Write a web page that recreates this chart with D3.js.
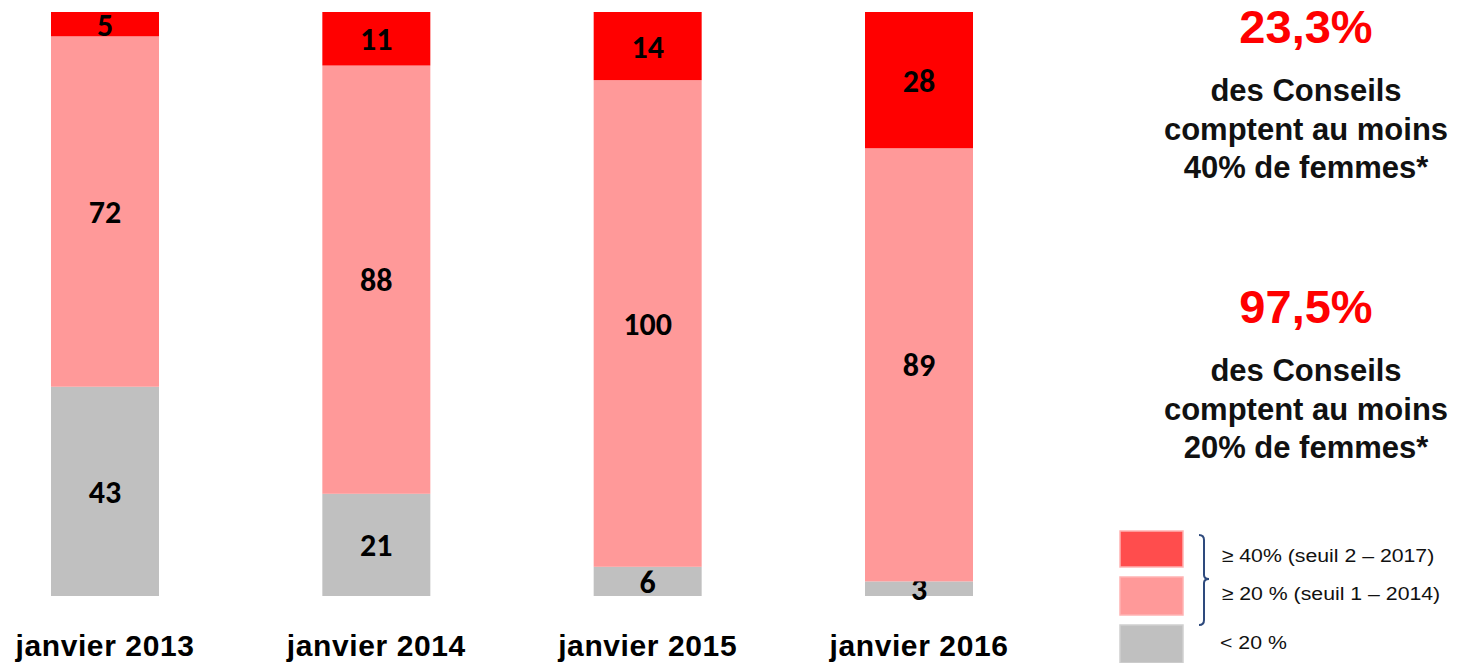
<!DOCTYPE html>
<html>
<head>
<meta charset="utf-8">
<script src="https://cdn.jsdelivr.net/npm/d3@7"></script>
<style>
  body { margin: 0; background: #fff; }
  svg { display: block; }
</style>
</head>
<body>
<div id="chart"></div>
<script>
// data (number of boards per category)
const periods = ["janvier 2013", "janvier 2014", "janvier 2015", "janvier 2016"];
const below20 = [43, 21, 6, 3];
const from20 = [72, 88, 100, 89];
const above40 = [5, 11, 14, 28];

const seriesKeys = ["below20", "from20", "above40"];
const seriesColors = ["#c0c0c0", "#ff9999", "#ff0000"];

const legendLabels = ["≥ 40% (seuil 2 – 2017)", "≥ 20 % (seuil 1 – 2014)", "< 20 %"];
const legendColors = ["#ff4d4d", "#ff9999", "#c0c0c0"];

const bigFigures = ["23,3%", "97,5%"];
const bigTexts = [
  ["des Conseils", "comptent au moins", "40% de femmes*"],
  ["des Conseils", "comptent au moins", "20% de femmes*"]
];

const rows = periods.map((p, i) => ({
  period: p,
  below20: below20[i],
  from20: from20[i],
  above40: above40[i]
}));

const width = 1458, height = 663;

const svg = d3.select("#chart")
  .append("svg")
  .attr("width", width)
  .attr("height", height);

// scales
const x = d3.scaleBand()
  .domain(periods)
  .range([51, 973])
  .paddingInner(0.602)
  .paddingOuter(0);

const y = d3.scaleLinear()
  .domain([0, 120])
  .range([596, 12]);

const color = d3.scaleOrdinal().domain(seriesKeys).range(seriesColors);

const stacked = d3.stack().keys(seriesKeys)(rows);

// bars
const layers = svg.append("g")
  .selectAll("g")
  .data(stacked)
  .join("g")
  .attr("fill", d => color(d.key));

layers.selectAll("rect")
  .data(d => d)
  .join("rect")
  .attr("x", d => x(d.data.period))
  .attr("y", d => y(d[1]))
  .attr("width", x.bandwidth())
  .attr("height", d => y(d[0]) - y(d[1]));

// value labels
layers.selectAll("text")
  .data(d => d.map(v => ({ v: v, key: d.key })))
  .join("text")
  .attr("x", d => x(d.v.data.period) + x.bandwidth() / 2)
  .attr("y", d => (y(d.v[0]) + y(d.v[1])) / 2)
  .attr("dy", "0.36em")
  .attr("text-anchor", "middle")
  .attr("fill", "#000")
  .attr("font-family", "Carlito, Calibri, Lato, sans-serif")
  .attr("font-weight", "700")
  .style("font-size", "32px")
  .text(d => d.v.data[d.key]);

// x axis labels
const xAxis = d3.axisBottom(x).tickSize(0).tickPadding(0);
const xAxisGroup = svg.append("g")
  .attr("transform", "translate(0,634)")
  .call(xAxis);
xAxisGroup.select(".domain").remove();
xAxisGroup.selectAll("text")
  .attr("y", 0)
  .attr("dy", "0.72em")
  .attr("fill", "#000")
  .attr("font-family", "Liberation Sans, Arial, sans-serif")
  .attr("font-weight", "700")
  .attr("letter-spacing", "0.6px")
  .style("font-size", "30px");

// big figures on the right
const side = svg.append("g").attr("transform", "translate(1306,0)");
const blockTop = [43, 323];

bigFigures.forEach((f, i) => {
  side.append("text")
    .attr("x", 0)
    .attr("y", blockTop[i])
    .attr("text-anchor", "middle")
    .attr("fill", "#ff0000")
    .attr("font-family", "Liberation Sans, Arial, sans-serif")
    .attr("font-weight", "700")
    .style("font-size", "47px")
    .text(f);

  side.selectAll(null)
    .data(bigTexts[i])
    .join("text")
    .attr("x", 0)
    .attr("y", (d, j) => blockTop[i] + 58 + j * 38.5)
    .attr("text-anchor", "middle")
    .attr("fill", "#111")
    .attr("font-family", "Liberation Sans, Arial, sans-serif")
    .attr("font-weight", "700")
    .style("font-size", "31px")
    .text(d => d);
});

// legend
const legendY = [531, 577, 625];
const legendH = [36, 38, 38];
const legend = svg.append("g");

legend.selectAll("rect")
  .data(legendColors)
  .join("rect")
  .attr("x", 1120)
  .attr("y", (d, i) => legendY[i])
  .attr("width", 63)
  .attr("height", (d, i) => legendH[i])
  .attr("fill", d => d)
  .attr("stroke", (d, i) => i < 2 ? "#ffb3b3" : "#d0d0d0")
  .attr("stroke-width", 1.5);

// legend text in the source is a little stretched
const legendTextY = [562, 600, 649];
legend.append("g")
  .attr("transform", "translate(1220,0) scale(1.12,1)")
  .selectAll("text")
  .data(legendLabels)
  .join("text")
  .attr("x", (d, i) => i < 2 ? 1.5 : 0)
  .attr("y", (d, i) => legendTextY[i])
  .attr("fill", "#111")
  .attr("font-family", "Liberation Sans, Arial, sans-serif")
  .style("font-size", "19px")
  .text(d => d);

// curly bracket grouping the two upper categories
legend.append("path")
  .attr("d", "M1199,535 Q1204,535 1204,540 L1204,575 Q1204,579 1209,579 Q1204,579 1204,583 L1204,620 Q1204,625 1199,625")
  .attr("fill", "none")
  .attr("stroke", "#2e4a7d")
  .attr("stroke-width", 2);
</script>
</body>
</html>
